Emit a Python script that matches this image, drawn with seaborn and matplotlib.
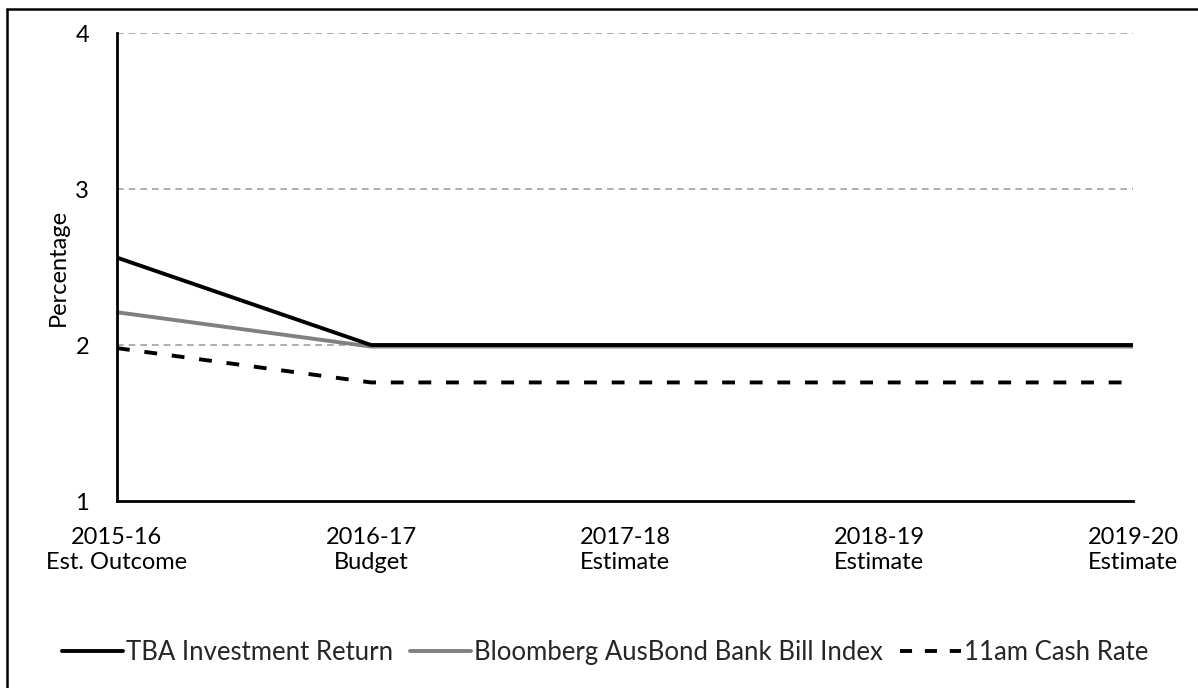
import matplotlib
matplotlib.use("Agg")
import matplotlib.pyplot as plt
import seaborn as sns
import pandas as pd
from matplotlib.lines import Line2D

# Financial years and their status labels
years = ["2015-16", "2016-17", "2017-18", "2018-19", "2019-20"]
stages = ["Est. Outcome", "Budget", "Estimate", "Estimate", "Estimate"]

# Returns / rates, per cent
tba_return = [2.56, 2.0, 2.0, 2.0, 2.0]
bank_bill_index = [2.21, 1.99, 1.99, 1.99, 1.99]
cash_rate = [1.98, 1.76, 1.76, 1.76, 1.76]

series_names = ["TBA Investment Return", "Bloomberg AusBond Bank Bill Index", "11am Cash Rate"]
y_ticks = [1, 2, 3, 4]

sns.set_theme(style="white")
plt.rcParams["font.family"] = ["Lato", "DejaVu Sans"]

pos = list(range(len(years)))
df = pd.DataFrame({
    "pos": pos * 3,
    "value": tba_return + bank_bill_index + cash_rate,
    "series": [series_names[0]] * 5 + [series_names[1]] * 5 + [series_names[2]] * 5,
})

fig = plt.figure(figsize=(11.98, 6.88), dpi=100)
ax = fig.add_axes([117 / 1198, 1 - 501 / 688, (1133 - 117) / 1198, (501 - 33) / 688])

colors = {series_names[0]: "#000000", series_names[1]: "#808080", series_names[2]: "#000000"}
lw = 2.8
dash = (3.3, 3.8)
order = [series_names[1], series_names[0], series_names[2]]
for name in order:
    sub = df[df["series"] == name]
    sns.lineplot(data=sub, x="pos", y="value", ax=ax, color=colors[name],
                 linewidth=lw, legend=False, zorder=3 if name != series_names[1] else 2)
# dash pattern for the cash rate line
ax.lines[-1].set_dashes(dash)

ax.set_xlim(0, len(years) - 1)
ax.set_ylim(1, 4)
ax.set_yticks(y_ticks)
ax.set_yticklabels([str(t) for t in y_ticks])
ax.set_xticks(pos)
ax.set_xticklabels([f"{y}\n{s}" for y, s in zip(years, stages)])
for lab in ax.get_xticklabels():
    lab.set_linespacing(1.2)

ax.tick_params(axis="x", direction="in", length=8, width=1.5, color="black",
               pad=19, labelsize=17, labelcolor="black")
ax.tick_params(axis="y", direction="in", length=7, width=1.5, color="black",
               pad=20, labelsize=17, labelcolor="black")
ax.tick_params(axis="x", top=False)
ax.tick_params(axis="y", right=False)

for g in [2, 3, 4]:
    ax.axhline(g, color="#a0a0a0", linewidth=1.2, linestyle=(0, (4, 3)), zorder=1)

for side in ["top", "right"]:
    ax.spines[side].set_visible(False)
for side in ["left", "bottom"]:
    ax.spines[side].set_color("black")
    ax.spines[side].set_linewidth(2.0)

ax.set_xlabel("")
ax.set_ylabel("Percentage", fontsize=17, color="black", labelpad=5)

handles = [
    Line2D([], [], color="#000000", linewidth=lw),
    Line2D([], [], color="#808080", linewidth=lw),
    Line2D([], [], color="#000000", linewidth=lw, dashes=(3.1, 3.3)),
]
fig.legend(handles, series_names, loc="center", bbox_to_anchor=(0.505, 0.052),
           ncol=3, frameon=False, fontsize=18.5, handlelength=2.4, handletextpad=0.1,
           columnspacing=0.65)

# outer frame edges
fig.add_artist(Line2D([7 / 1198, 7 / 1198], [0, 1 - 9 / 688], transform=fig.transFigure,
                      color="black", linewidth=1.8))
fig.add_artist(Line2D([7 / 1198, 1], [1 - 9 / 688, 1 - 9 / 688], transform=fig.transFigure,
                      color="black", linewidth=1.8))

fig.savefig("out.png", dpi=100)
